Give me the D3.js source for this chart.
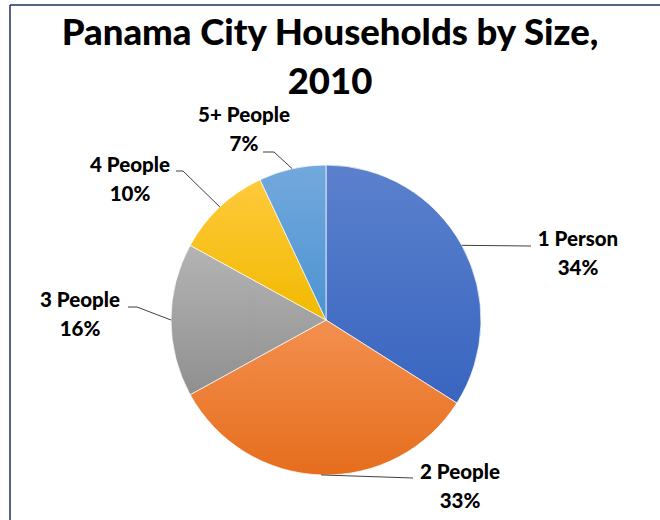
<!DOCTYPE html>
<html lang="en-us">
<meta charset="utf-8">
<head>
	<title>Panama City Households by Size</title>
	<style>
	body { margin: 0; background: #fff; }
	text { font-family: Lato, "Liberation Sans", sans-serif; font-weight: bold; fill: #000; }
	.leader { fill: none; stroke: #404040; stroke-width: 1px; }
	</style>
</head>
<body>
	<svg width="660" height="520"></svg>
	<script src="https://cdn.jsdelivr.net/npm/d3@7"></script>
	<script>

// data
var categories = ["1 Person", "2 People", "3 People", "4 People", "5+ People"];
var shares = [34, 33, 16, 10, 7];
var titleLines = ["Panama City Households by Size,", "2010"];

// office-theme colours, light at top / dark at bottom
var topColors = ["#5b81cd", "#f3904f", "#b4b4b4", "#ffc93c", "#73a9dc"];
var bottomColors = ["#3965c0", "#e66d1c", "#8f8f8f", "#f1ba00", "#4c93d3"];

var svg = d3.select("svg"),
    cx = 326, cy = 320, radius = 155;

// frame (top and left edges only show)
svg.append("line").attr("x1", 10).attr("y1", 5).attr("x2", 660).attr("y2", 5)
    .attr("stroke", "#1f2f5f").attr("stroke-width", 1.5);
svg.append("line").attr("x1", 10).attr("y1", 5).attr("x2", 10).attr("y2", 520)
    .attr("stroke", "#1f2f5f").attr("stroke-width", 1.5);

svg.selectAll(".title")
    .data(titleLines)
  .enter().append("text")
    .attr("class", "title")
    .attr("x", 330)
    .attr("y", function(d, i) { return 45 + i * 49; })
    .attr("text-anchor", "middle")
    .style("font-size", "36.5px")
    .style("font-weight", 900)
    .text(function(d) { return d; });

var defs = svg.append("defs");
var grad = defs.selectAll("linearGradient")
    .data(categories)
  .enter().append("linearGradient")
    .attr("id", function(d, i) { return "g" + i; })
    .attr("x1", 0).attr("y1", 0).attr("x2", 0).attr("y2", 1);
grad.append("stop").attr("offset", "0%").attr("stop-color", function(d, i) { return topColors[i]; });
grad.append("stop").attr("offset", "100%").attr("stop-color", function(d, i) { return bottomColors[i]; });

var pie = d3.pie().sort(null).value(function(d) { return d; });
var arcs = pie(shares);

var arc = d3.arc().innerRadius(0).outerRadius(radius);

var g = svg.append("g").attr("transform", "translate(" + cx + "," + cy + ")");

g.selectAll(".slice")
    .data(arcs)
  .enter().append("path")
    .attr("class", "slice")
    .attr("d", arc)
    .attr("fill", function(d, i) { return "url(#g" + i + ")"; })
    .attr("stroke", "#fff")
    .attr("stroke-width", 0.7);

// label layout, relative to pie centre: text centre / first baseline, elbow, end of leader
var labelAt = [[252, -74], [134, 159], [-246, -13], [-196, -148], [-82, -198]];
var elbowAt = [[205, -74], [87, 158], [-189, -13], [-143, -149], [-52, -168]];
var endAt = [[205, -74], [87, 158], [-198, -13], [-150, -149], [-63, -168]];

function edge(d) {
  var a = (d.startAngle + d.endAngle) / 2;
  return [radius * Math.sin(a), -radius * Math.cos(a)];
}

g.selectAll(".leader")
    .data(arcs)
  .enter().append("path")
    .attr("class", "leader")
    .attr("d", function(d, i) { return d3.line()([edge(d), elbowAt[i], endAt[i]]); });

var lab = g.selectAll(".label")
    .data(arcs)
  .enter().append("text")
    .attr("class", "label")
    .attr("text-anchor", "middle")
    .style("font-size", "20.5px")
    .style("font-weight", 900)
    .attr("transform", function(d, i) { return "translate(" + labelAt[i][0] + "," + labelAt[i][1] + ")"; });

lab.append("tspan").attr("x", 0).attr("y", 0).text(function(d, i) { return categories[i]; });
lab.append("tspan").attr("x", 0).attr("y", 29).text(function(d) { return d.data + "%"; });

</script>
</body>
</html>
